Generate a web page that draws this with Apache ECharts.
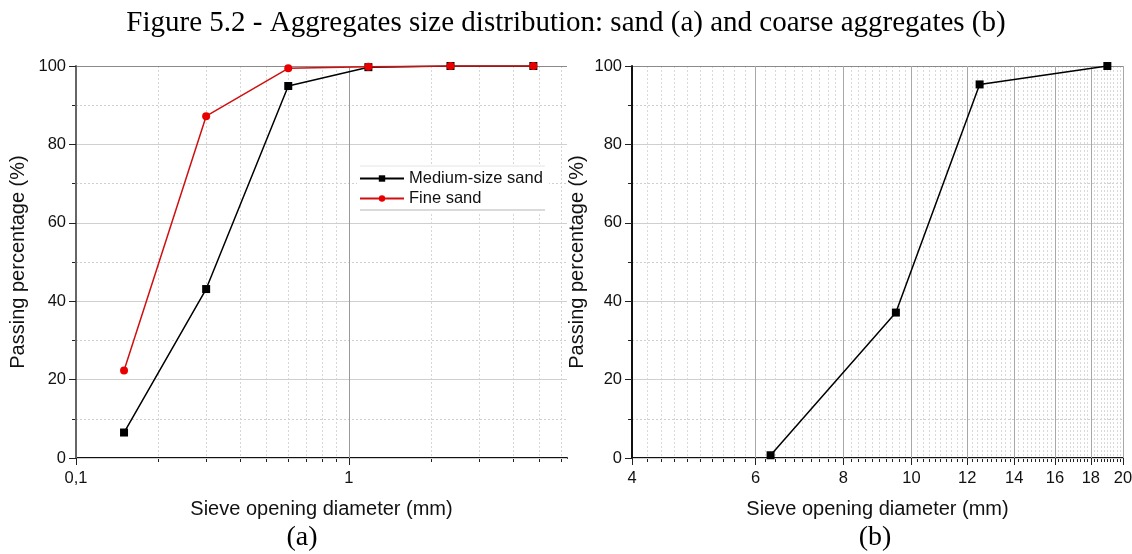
<!DOCTYPE html>
<html><head><meta charset="utf-8">
<script src="https://cdn.jsdelivr.net/npm/echarts@6/dist/echarts.min.js"></script>
<style>html,body{margin:0;padding:0;background:#fff}</style>
</head><body>
<div id="c" style="width:1132px;height:554px"></div>
<script>
// Sieve analysis data
const sieveSand = [0.15, 0.3, 0.6, 1.18, 2.36, 4.75];
const mediumSand = [6.5, 43.1, 94.9, 99.7, 100, 100];
const fineSand = [22.3, 87.2, 99.4, 99.8, 100, 100];
const sieveCoarse = [6.3, 9.5, 12.5, 19];
const coarseAgg = [0.7, 37.1, 95.3, 100];

// Tick values
const sandMajorTicks = [0.1, 1];
const sandMinorTicks = [0.2, 0.3, 0.4, 0.5, 0.6, 0.7, 0.8, 0.9, 2, 3, 4, 5, 6];
const coarseMajorTicks = [4, 6, 8, 10, 12, 14, 16, 18, 20];
const coarseMinorTicks = [];
for (let i = 20; i <= 100; i++) {
  if (i % 10 !== 0) coarseMinorTicks.push(i / 5);
}

const SANS = 'Liberation Sans, Arial, sans-serif';
const SERIF = 'Liberation Serif, Times New Roman, serif';
const zip = (xs, ys) => xs.map((x, i) => [x, ys[i]]);

const chart = echarts.init(document.getElementById('c'));

const axisNameStyle = { fontFamily: SANS, fontSize: 20, color: '#111' };
const labelStyle = { fontFamily: SANS, fontSize: 16.5, color: '#111' };

function minorX(gridIndex, min, max, ticks, lineColor) {
  return {
    type: 'log', gridIndex, min, max, position: 'bottom',
    axisLine: { show: true, onZero: false, lineStyle: { color: '#111', width: 2 } },
    axisTick: { show: true, inside: false, length: 4, customValues: ticks, lineStyle: { color: '#222', width: 1 } },
    axisLabel: { show: false },
    splitLine: { show: true, lineStyle: { color: lineColor, width: 1, type: [2, 2] } },
    z: 1
  };
}
function majorX(gridIndex, min, max, ticks, fmt, splitColor) {
  return {
    type: 'log', gridIndex, min, max, position: 'bottom',
    name: 'Sieve opening diameter (mm)', nameLocation: 'middle', nameGap: 41,
    nameTextStyle: axisNameStyle,
    axisLine: { show: false },
    axisTick: { show: true, inside: false, length: 7, customValues: ticks, lineStyle: { color: '#222', width: 1 } },
    axisLabel: { show: true, customValues: ticks, margin: 12, formatter: fmt, ...labelStyle },
    splitLine: { show: true, lineStyle: { color: splitColor, width: 1 } },
    z: 2
  };
}
function majorY(gridIndex, nameGap, axisColor) {
  return {
    type: 'value', gridIndex, min: 0, max: 100, interval: 20, position: 'left',
    name: 'Passing percentage (%)', nameLocation: 'middle', nameGap,
    nameTextStyle: axisNameStyle,
    axisLine: { show: true, onZero: false, lineStyle: { color: axisColor, width: 2 } },
    axisTick: { show: true, inside: false, length: 7, lineStyle: { color: '#222' } },
    axisLabel: { margin: 10, ...labelStyle },
    splitLine: { show: true, lineStyle: { color: ['#cfcfcf', '#cfcfcf', '#cfcfcf', '#cfcfcf', '#cfcfcf', '#8a8a8a'], width: 1 } },
    z: 2
  };
}
function minorY(gridIndex) {
  return {
    type: 'value', gridIndex, min: 0, max: 100, interval: 10, position: 'left',
    axisLine: { show: false },
    axisTick: { show: true, inside: false, length: 4, lineStyle: { color: '#222' } },
    axisLabel: { show: false },
    splitLine: { show: true, lineStyle: { color: '#cfcfcf', width: 1, type: [2, 2] } },
    z: 1
  };
}

chart.setOption({
  animation: false,
  backgroundColor: '#fff',
  title: {
    text: 'Figure 5.2 - Aggregates size distribution: sand (a) and coarse aggregates (b)',
    left: 'center', top: 4,
    textStyle: { fontFamily: SERIF, fontSize: 29, fontWeight: 'normal', color: '#000' }
  },
  grid: [
    { left: 76, top: 66, width: 491, height: 392, outerBoundsMode: 'none', containLabel: false },
    { left: 632, top: 66, width: 491, height: 392, outerBoundsMode: 'none', containLabel: false }
  ],
  xAxis: [
    minorX(0, 0.1, 6.31, sandMinorTicks, '#d6d6d6'),
    majorX(0, 0.1, 6.31, sandMajorTicks, v => String(v).replace('.', ','), '#9a9a9a'),
    minorX(1, 4, 20, coarseMinorTicks, '#d9d9d9'),
    majorX(1, 4, 20, coarseMajorTicks, v => String(v), '#a8a8a8')
  ],
  yAxis: [
    minorY(0), majorY(0, 48, '#666'),
    minorY(1), majorY(1, 45, '#111')
  ],
  legend: {
    orient: 'vertical', left: 357, top: 166,
    backgroundColor: '#fff', padding: [4, 6, 6, 2], itemGap: 3,
    itemWidth: 44, itemHeight: 8,
    textStyle: { fontFamily: SANS, fontSize: 16.5, color: '#111' },
    data: ['Medium-size sand', 'Fine sand']
  },
  graphic: [
    { type: 'line', shape: { x1: 360, y1: 166, x2: 545, y2: 166 }, style: { stroke: '#e4e4e4', lineWidth: 1 }, z: 100 },
    { type: 'line', shape: { x1: 360, y1: 210, x2: 545, y2: 210 }, style: { stroke: '#b5b5b5', lineWidth: 1 }, z: 100 },
    { type: 'text', x: 302, y: 538, style: { text: '(a)', font: '28px ' + SERIF, fill: '#000', textAlign: 'center', textVerticalAlign: 'middle' } },
    { type: 'text', x: 875, y: 538, style: { text: '(b)', font: '28px ' + SERIF, fill: '#000', textAlign: 'center', textVerticalAlign: 'middle' } }
  ],
  series: [
    {
      name: 'Medium-size sand', type: 'line', xAxisIndex: 0, yAxisIndex: 1,
      data: zip(sieveSand, mediumSand),
      symbol: 'rect', symbolSize: 8,
      itemStyle: { color: '#000' }, lineStyle: { color: '#000', width: 1.5 }, z: 4
    },
    {
      name: 'Fine sand', type: 'line', xAxisIndex: 0, yAxisIndex: 1,
      data: zip(sieveSand, fineSand),
      symbol: 'circle', symbolSize: 8,
      itemStyle: { color: '#e80000' }, lineStyle: { color: '#d01010', width: 1.5 }, z: 6
    },
    {
      name: 'Coarse aggregates', type: 'line', xAxisIndex: 2, yAxisIndex: 3,
      data: zip(sieveCoarse, coarseAgg),
      symbol: 'rect', symbolSize: 8,
      itemStyle: { color: '#000' }, lineStyle: { color: '#000', width: 1.5 }, z: 5
    }
  ]
});
</script></body></html>
